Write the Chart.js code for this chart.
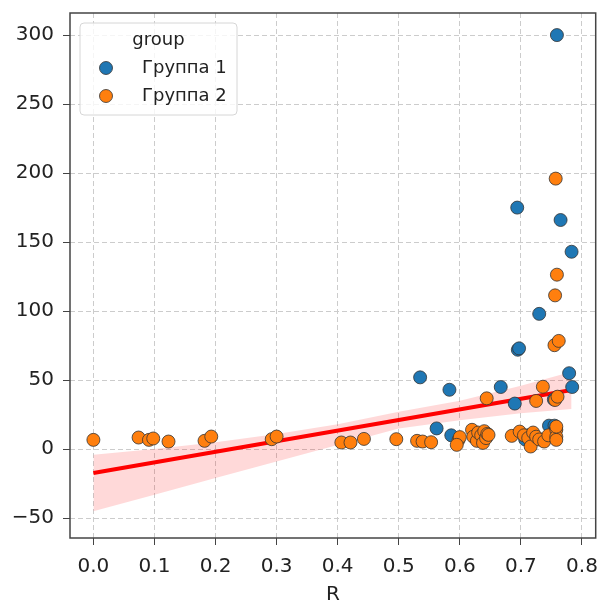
<!DOCTYPE html>
<html>
<head>
<meta charset="utf-8">
<script src="https://cdn.jsdelivr.net/npm/chart.js@4/dist/chart.umd.min.js"></script>
<style>
  body { margin: 0; background: #fff; }
</style>
</head>
<body>
<canvas id="myChart" width="603" height="605"></canvas>
<script>
// group names for the legend
const groups = ['Группа 1', 'Группа 2'];

// Группа 1 (blue points)
const g1X = [0.759, 0.694, 0.765, 0.783, 0.730, 0.695, 0.697, 0.535, 0.779, 0.583,
             0.667, 0.784, 0.690, 0.754, 0.562, 0.586, 0.707, 0.746, 0.755, 0.757, 0.712];
const g1Y = [300, 175, 166, 143, 98, 72, 73, 52, 55, 43,
             45, 45, 33, 36, 15, 10, 7, 17, 17, 14, 10];

// Группа 2 (orange points)
const g2X = [0.000, 0.074, 0.091, 0.098, 0.123, 0.182, 0.193, 0.292, 0.300, 0.406,
             0.421, 0.443, 0.496, 0.530, 0.539, 0.553, 0.598, 0.600, 0.595, 0.620,
             0.622, 0.628, 0.630, 0.635, 0.638, 0.640, 0.643, 0.645, 0.647, 0.644,
             0.685, 0.698, 0.705, 0.712, 0.716, 0.720, 0.725, 0.730, 0.738, 0.745,
             0.725, 0.736, 0.756, 0.760, 0.755, 0.762, 0.756, 0.759, 0.757, 0.758,
             0.758, 0.758, 0.758];
const g2Y = [6.7, 8.4, 6.7, 7.7, 5.5, 6, 9.1, 7.2, 9.1, 4.8,
             4.8, 7.4, 7.2, 6, 5.5, 5, 6.7, 8.7, 3.1, 14,
             9, 6, 12, 10, 4.5, 13, 8, 11, 10.3, 36.8,
             9.6, 12.7, 10, 8, 1.9, 12, 9, 7, 5.5, 10,
             34.9, 45.2, 35.6, 38, 75.3, 78.4, 111.4, 126.4, 196, 14,
             9, 6.7, 16.3];

// regression line and its confidence band
const lineX = [0, 0.783];
const lineY = [-17.3, 42.8];
const bandX = [0, 0.1, 0.2, 0.3, 0.4, 0.5, 0.6, 0.7, 0.783];
const bandHigh = [-4, 0, 5, 11, 18, 27, 35, 46, 56];
const bandLow = [-45, -33, -21, -9, 3, 15, 21, 26, 29];

// tick labels
const xTicks = [0.0, 0.1, 0.2, 0.3, 0.4, 0.5, 0.6, 0.7, 0.8];
const yTicks = [-50, 0, 50, 100, 150, 200, 250, 300];

const colors = ['#1f77b4', '#ff7f0e'];

const pts = (xs, ys) => xs.map((x, i) => ({ x: x, y: ys[i] }));

// frame round the plot + legend box in the top left corner
const frameAndLegend = {
    id: 'frameAndLegend',
    afterDraw(chart) {
        const ctx = chart.ctx;
        const a = chart.chartArea;
        ctx.save();
        ctx.strokeStyle = '#444';
        ctx.lineWidth = 1.5;
        ctx.strokeRect(a.left, a.top, a.right - a.left, a.bottom - a.top);

        // legend
        const bx = 80, by = 23, bw = 157, bh = 92;
        ctx.beginPath();
        ctx.roundRect(bx, by, bw, bh, 4);
        ctx.fillStyle = 'rgba(255,255,255,0.8)';
        ctx.fill();
        ctx.strokeStyle = '#d6d6d6';
        ctx.lineWidth = 1;
        ctx.stroke();

        ctx.fillStyle = '#222';
        ctx.font = '18px "DejaVu Sans"';
        ctx.textBaseline = 'middle';
        ctx.textAlign = 'center';
        ctx.fillText('group', bx + bw / 2, by + 17);

        ctx.textAlign = 'left';
        groups.forEach((g, i) => {
            const y = by + 45 + i * 28;
            ctx.beginPath();
            ctx.arc(106, y, 6.5, 0, Math.PI * 2);
            ctx.fillStyle = colors[i];
            ctx.fill();
            ctx.strokeStyle = '#333';
            ctx.lineWidth = 0.8;
            ctx.stroke();
            ctx.fillStyle = '#222';
            ctx.fillText(g, 142, y);
        });
        ctx.restore();
    }
};

const chart = new Chart(document.getElementById('myChart'), {
    type: 'scatter',
    data: {
        datasets: [{
            label: groups[1],
            data: pts(g2X, g2Y),
            backgroundColor: colors[1],
            borderColor: '#333',
            borderWidth: 0.8,
            pointRadius: 6.5,
            order: 0
        }, {
            label: groups[0],
            data: pts(g1X, g1Y),
            backgroundColor: colors[0],
            borderColor: '#333',
            borderWidth: 0.8,
            pointRadius: 6.5,
            order: 1
        }, {
            label: 'fit',
            data: pts(lineX, lineY),
            showLine: true,
            borderColor: '#ff0000',
            borderWidth: 4,
            pointRadius: 0,
            order: 2
        }, {
            label: 'low',
            data: pts(bandX, bandLow),
            showLine: true,
            borderWidth: 0,
            borderColor: 'rgba(0,0,0,0)',
            pointRadius: 0,
            fill: false,
            order: 4
        }, {
            label: 'high',
            data: pts(bandX, bandHigh),
            showLine: true,
            borderWidth: 0,
            borderColor: 'rgba(0,0,0,0)',
            backgroundColor: 'rgba(255,0,0,0.15)',
            pointRadius: 0,
            fill: '-1',
            order: 3
        }]
    },
    options: {
        responsive: false,
        animation: false,
        layout: { padding: { top: 13, right: 5, left: 0, bottom: 0 } },
        plugins: {
            legend: { display: false },
            tooltip: { enabled: false }
        },
        scales: {
            x: {
                type: 'linear',
                min: -0.0383,
                max: 0.8225,
                afterBuildTicks: s => { s.ticks = xTicks.map(v => ({ value: v })); },
                afterFit: s => {
                    s.height = 67;
                    s.paddingLeft = 0;
                    s.paddingRight = 0;
                },
                ticks: {
                    callback: v => v.toFixed(1),
                    font: { family: 'DejaVu Sans', size: 20 },
                    color: '#222',
                    padding: 10,
                    maxRotation: 0,
                    autoSkip: false
                },
                grid: {
                    color: '#cccccc',
                    tickColor: '#444',
                    tickBorderDash: [],
                    tickLength: 7
                },
                border: { display: false, dash: [5, 3] },
                title: {
                    display: true,
                    text: 'R',
                    color: '#222',
                    font: { family: 'DejaVu Sans', size: 20, lineHeight: 1 },
                    padding: { top: 0, bottom: 0 }
                }
            },
            y: {
                min: -64.4,
                max: 316,
                afterBuildTicks: s => { s.ticks = yTicks.map(v => ({ value: v })); },
                afterFit: s => {
                    s.width = 70;
                    s.paddingTop = 0;
                    s.paddingBottom = 0;
                },
                ticks: {
                    callback: v => String(v).replace('-', '\u2212'),
                    font: { family: 'DejaVu Sans', size: 20 },
                    color: '#222',
                    padding: 9
                },
                grid: {
                    color: '#cccccc',
                    tickColor: '#444',
                    tickBorderDash: [],
                    tickLength: 7
                },
                border: { display: false, dash: [5, 3] }
            }
        }
    },
    plugins: [frameAndLegend]
});
</script>
</body>
</html>
